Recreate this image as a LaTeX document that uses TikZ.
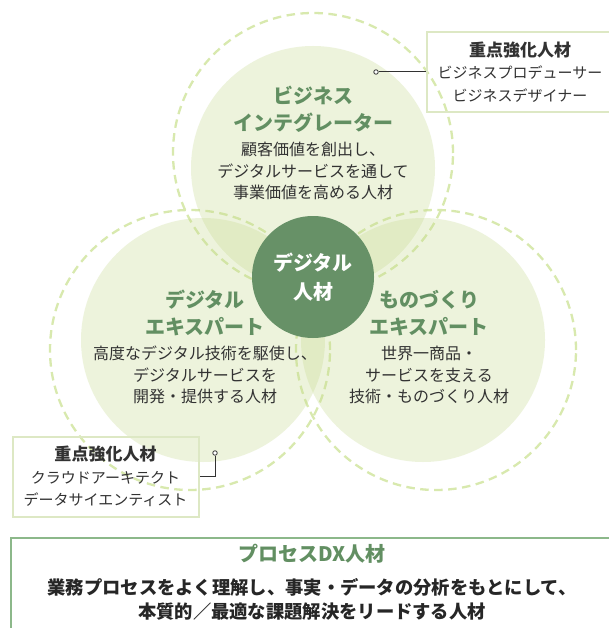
\documentclass[tikz,border=0pt]{standalone}
\usepackage{fontspec}
\setmainfont{Noto Sans CJK JP}
\usepackage{xcolor}
\usepackage{tikz}
\usetikzlibrary{positioning}

\definecolor{leafgreen}{RGB}{198,218,142}
\definecolor{ringgreen}{RGB}{216,233,174}
\definecolor{coregreen}{RGB}{103,145,103}
\definecolor{titlegreen}{RGB}{98,143,98}
\definecolor{boxgreen}{RGB}{221,232,196}
\definecolor{framegreen}{RGB}{140,184,138}
\definecolor{bodygray}{RGB}{50,50,50}

\tikzset{
  ring/.style={draw=ringgreen, line width=2.3pt, dash pattern=on 8.5pt off 5.5pt},
  leaf/.style={fill=leafgreen, fill opacity=0.3},
  heading/.style={inner sep=0pt, align=center, text=titlegreen, font=\fontsize{20}{27}\selectfont\bfseries},
  blurb/.style={inner sep=0pt, align=center, text=bodygray, font=\fontsize{16}{21.5}\selectfont},
  callout/.style={draw=boxgreen, line width=2pt, minimum width=186pt, minimum height=80pt, align=center, text=bodygray, font=\fontsize{15}{22.5}\selectfont},
  pin/.style={circle, draw=bodygray, fill=white, line width=0.8pt, inner sep=0pt, minimum size=4.5pt},
  lead/.style={draw=bodygray, line width=1pt},
}

\begin{document}
\begin{tikzpicture}[x=1pt, y=-1pt]

\fill[white] (0,0) rectangle (608,628);
\useasboundingbox (0,0) rectangle (608,628);

% dashed rings
\draw[ring] (313,153) circle[radius=140pt];
\draw[ring] (190,350) circle[radius=140pt];
\draw[ring] (436,350) circle[radius=140pt];

% three fields
\fill[leaf] (313,168) circle[radius=122pt];
\fill[leaf] (203,340) circle[radius=122pt];
\fill[leaf] (423,340) circle[radius=122pt];

\node[circle, fill=coregreen, minimum size=122pt, inner sep=0pt, align=center, text=white,
  font=\fontsize{20}{29}\selectfont\bfseries] (core) at (313,277) {デジタル\\人材};

\node[heading] (bizhead) at (313,109) {ビジネス\\インテグレーター};
\node[blurb] (biztext) at (313,171) {顧客価値を創出し、\\デジタルサービスを通して\\事業価値を高める人材};

\node[heading] (exphead) at (205,313) {デジタル\\エキスパート};
\node[blurb] (exptext) at (205,375) {高度なデジタル技術を駆使し、\\デジタルサービスを\\開発・提供する人材};

\node[heading] (makehead) at (429,313) {ものづくり\\エキスパート};
\node[blurb] (maketext) at (429,375) {世界一商品・\\サービスを支える\\技術・ものづくり人材};

% callouts
\node[callout] (bizbox) at (520,72) {{\bfseries\fontsize{17}{22.5}\selectfont 重点強化人材}\\ビジネスプロデューサー\\ビジネスデザイナー};
\node[pin] (bizpin) at (376,72) {};
\draw[lead] (bizpin) -- (bizbox.west);

\node[callout] (expbox) at (105.5,476.5) {{\bfseries\fontsize{17}{22.5}\selectfont 重点強化人材}\\クラウドアーキテクト\\データサイエンティスト};
\node[pin] (exppin) at (215,453) {};
\draw[lead] (exppin) |- (expbox.east);

% process DX
\node[draw=framegreen, line width=1.2pt, minimum width=609pt, minimum height=112pt, inner sep=0pt] (dxbox) at (315.5,594) {};
\node[inner sep=0pt, text=titlegreen, font=\fontsize{20}{24}\selectfont\bfseries] (dxhead) at (312,554) {プロセスDX人材};
\node[inner sep=0pt, align=center, text=black!85, font=\fontsize{18.3}{24}\selectfont\bfseries] (dxtext) at (312,599)
  {業務プロセスをよく理解し、事実・データの分析をもとにして、\\本質的／最適な課題解決をリードする人材};

\end{tikzpicture}
\end{document}
